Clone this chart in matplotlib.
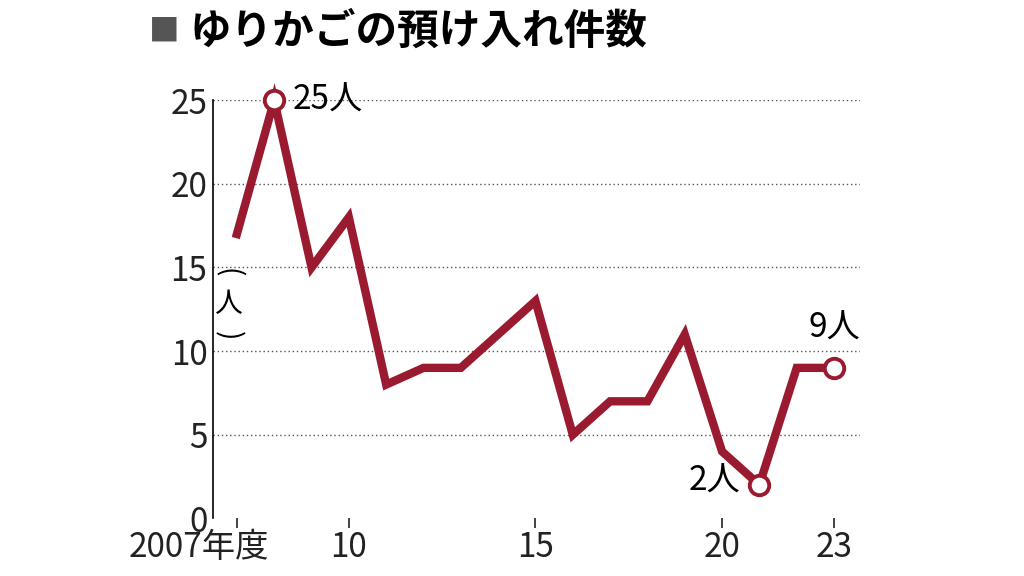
import matplotlib
matplotlib.use("Agg")
import matplotlib.pyplot as plt

plt.rcParams['font.family'] = ['Noto Sans CJK JP', 'DejaVu Sans']

years = list(range(2007, 2024))
counts = [17, 25, 15, 18, 8, 9, 9, 11, 13, 5, 7, 7, 11, 4, 2, 9, 9]
yticks = [0, 5, 10, 15, 20, 25]
xticks = [2007, 2010, 2015, 2020, 2023]
xlabels = ['2007年度', '10', '15', '20', '23']
red = '#9a1a30'

fig = plt.figure(figsize=(10.24, 5.76), dpi=100)
ax = fig.add_axes([0.208, 0.10, 0.632, 0.726])
ax.plot(years, counts, color=red, lw=6, solid_joinstyle='miter', clip_on=False, zorder=3)
for i in [1, 14, 16]:
    ax.plot(years[i], counts[i], 'o', ms=14, mfc='white', mec=red, mew=2.8, clip_on=False, zorder=4)

ax.set_xlim(2006.36, 2023.7)
ax.set_ylim(0, 25)
ax.set_yticks(yticks)
ax.set_xticks(xticks)
ax.set_xticklabels(xlabels)
ax.tick_params(labelsize=24, length=7, width=1.2, colors='#222222', pad=1)
ax.tick_params(axis='y', length=0, pad=4)
lbl = ax.get_xticklabels()[0]
lbl.set_ha('center')
lbl.set_x(2006.0)
for y in yticks[1:]:
    ax.axhline(y, color='#555555', ls=(0, (1, 2)), lw=1, zorder=1)
for s in ['top', 'right']:
    ax.spines[s].set_visible(False)
ax.spines['left'].set_linewidth(1.2)
ax.spines['bottom'].set_visible(False)
fig.canvas.draw()
from matplotlib.transforms import offset_copy
lbl.set_transform(offset_copy(lbl.get_transform(), fig=fig, x=-38, y=0, units='dots'))

ax.text(years[1] + 0.5, counts[1], '25人', fontsize=24, va='center', ha='left')
ax.text(years[14] - 0.5, counts[14] + 0.2, '2人', fontsize=24, va='center', ha='right')
ax.text(years[16], counts[16] + 2.4, '9人', fontsize=24, va='center', ha='center')
ax.text(2006.75, 14.7, '(', fontsize=20, rotation=-90, va='center', ha='center')
ax.text(2006.75, 12.8, '人', fontsize=20, va='center', ha='center')
ax.text(2006.75, 10.9, ')', fontsize=20, rotation=-90, va='center', ha='center')

fig.text(0.145, 0.945, '■', fontsize=22, color='#555555', va='center')
fig.text(0.185, 0.945, 'ゆりかごの預け入れ件数', fontsize=30, fontweight='bold', va='center')

fig.savefig('out.png', dpi=100)
